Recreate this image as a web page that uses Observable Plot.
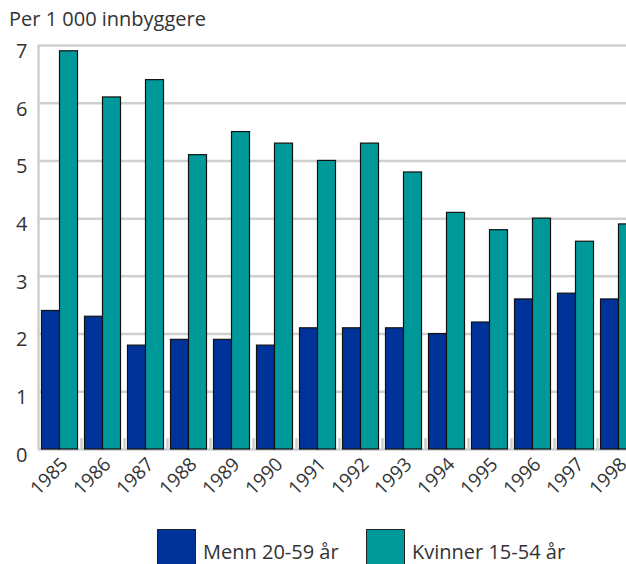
<!DOCTYPE html>
<html>
<head>
<meta charset="utf-8">
<script src="https://cdn.jsdelivr.net/npm/d3@7"></script>
<script src="https://cdn.jsdelivr.net/npm/@observablehq/plot@0.6"></script>
<style>
  html, body { margin: 0; padding: 0; background: #fff; }
  #wrap { position: relative; width: 626px; height: 564px; overflow: hidden; font-family: "Open Sans", sans-serif; color: #333; }
  #title { position: absolute; left: 9px; top: 7px; font-size: 20px; line-height: 24px; white-space: nowrap; }
  #chart { position: absolute; left: 0; top: 35px; }
  .sw { position: absolute; top: 529px; width: 37px; height: 40px; border: 1px solid #222; }
  .lt { position: absolute; top: 540px; font-size: 20px; line-height: 24px; white-space: nowrap; }
</style>
</head>
<body>
<div id="wrap">
  <div id="title">Per 1 000 innbyggere</div>
  <div id="chart"></div>
  <div class="sw" id="sw1" style="left:157px"></div>
  <div class="lt" id="lt1" style="left:203px"></div>
  <div class="sw" id="sw2" style="left:366px"></div>
  <div class="lt" id="lt2" style="left:412px"></div>
</div>
<script>
const years = [1985, 1986, 1987, 1988, 1989, 1990, 1991, 1992, 1993, 1994, 1995, 1996, 1997, 1998];
const menn = [2.4, 2.3, 1.8, 1.9, 1.9, 1.8, 2.1, 2.1, 2.1, 2.0, 2.2, 2.6, 2.7, 2.6];
const kvinner = [6.9, 6.1, 6.4, 5.1, 5.5, 5.3, 5.0, 5.3, 4.8, 4.1, 3.8, 4.0, 3.6, 3.9];
const seriesNames = ["Menn 20-59 år", "Kvinner 15-54 år"];
const colors = ["#003399", "#009999"];
const yTicks = [0, 1, 2, 3, 4, 5, 6, 7];

const rowsM = years.map((y, i) => ({year: String(y), value: menn[i]}));
const rowsK = years.map((y, i) => ({year: String(y), value: kvinner[i]}));
const yearLabels = years.map(String);
const half = 21.5;

const plot = Plot.plot({
  width: 626,
  height: 480,
  marginTop: 10,
  marginBottom: 66,
  marginLeft: 38,
  marginRight: 0,
  style: {fontFamily: "'Open Sans', sans-serif", fontSize: "20px", color: "#333", background: "transparent", overflow: "visible"},
  x: {type: "band", domain: yearLabels, range: [38, 640], padding: 0, axis: null},
  y: {domain: [0, 7], axis: null},
  marks: [
    Plot.ruleY(yTicks, {stroke: "#cfcfcf", strokeWidth: 2.5}),
    Plot.ruleX([yearLabels[0]], {x: d => d, dx: -half, stroke: "#cfcfcf", strokeWidth: 2.5}),
    Plot.ruleX(yearLabels.slice(1), {x: d => d, dx: -half, stroke: "#cfcfcf", strokeWidth: 2.5, insetTop: 393}),
    Plot.axisY(yTicks, {tickSize: 0, tickPadding: 11, dy: 6, label: null, tickFormat: d => String(d), fontSize: 20, fill: "#333"}),
    Plot.barY(rowsM, {x: "year", y: "value", fill: colors[0], stroke: "#111", strokeWidth: 1.2, insetLeft: 3.5, insetRight: half}),
    Plot.barY(rowsK, {x: "year", y: "value", fill: colors[1], stroke: "#111", strokeWidth: 1.2, insetLeft: half, insetRight: 3.5}),
    Plot.text(yearLabels, {x: d => d, text: d => d, frameAnchor: "bottom", dx: 9, dy: 16, rotate: -45, textAnchor: "end", lineAnchor: "bottom", fontSize: 19, fill: "#333"})
  ]
});
document.getElementById("chart").appendChild(plot);
document.getElementById("sw1").style.background = colors[0];
document.getElementById("sw2").style.background = colors[1];
document.getElementById("lt1").textContent = seriesNames[0];
document.getElementById("lt2").textContent = seriesNames[1];
</script>
</body>
</html>
